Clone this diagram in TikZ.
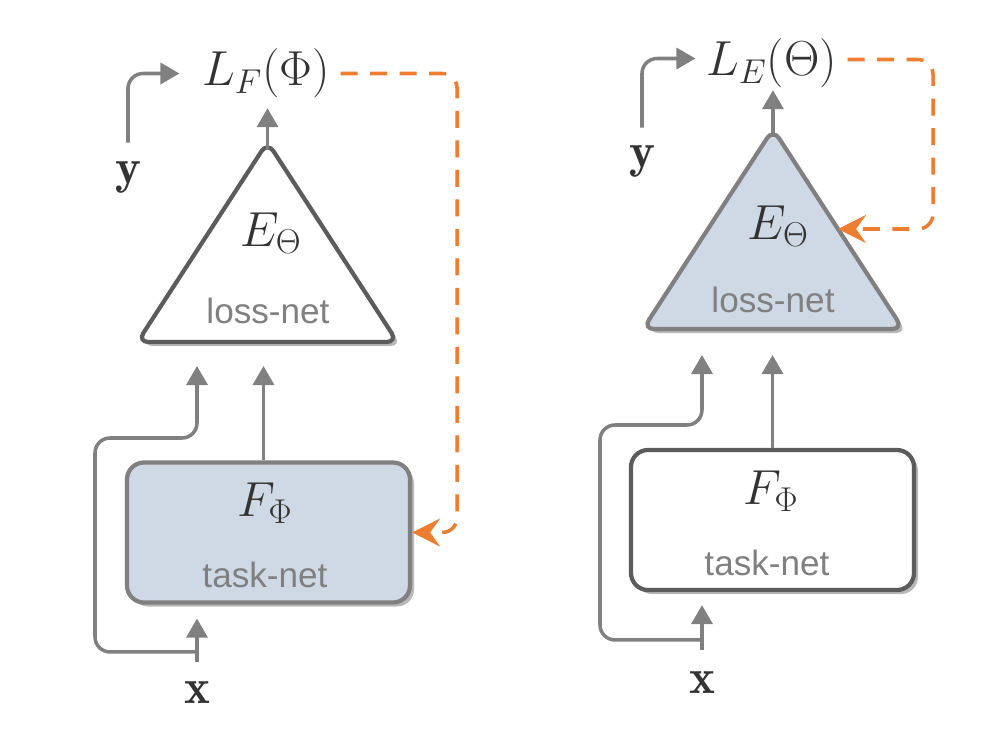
\documentclass[tikz,border=0pt]{standalone}
\usepackage{fix-cm}
\usepackage{amsmath,amssymb}
\usepackage{fontspec}
\setsansfont{Liberation Sans}
\usepackage{xcolor}
\usepackage{tikz}
\usetikzlibrary{positioning}
\usetikzlibrary{shapes.geometric}
\usetikzlibrary{shadows}
\usetikzlibrary{arrows.meta}

\definecolor{linegray}{RGB}{128,128,128}
\definecolor{edgedark}{RGB}{92,92,92}
\definecolor{netfill}{RGB}{207,217,230}
\definecolor{gradorange}{RGB}{237,125,49}
\definecolor{mathink}{RGB}{51,51,51}
\definecolor{labelgray}{RGB}{128,128,128}

\tikzset{
  net/.style={line width=2.4pt, drop shadow={shadow xshift=0.08cm, shadow yshift=-0.08cm, fill=black!28, opacity=1}},
  losstri/.style={net, isosceles triangle, isosceles triangle stretches, shape border rotate=90,
                  minimum width=5.2cm, minimum height=4cm, inner sep=0pt, outer sep=0pt,
                  rounded corners=0.22cm, anchor=apex},
  taskbox/.style={net, rectangle, rounded corners=0.34cm, minimum width=5.66cm, minimum height=2.8cm},
  netname/.style={font=\sffamily\fontsize{20}{24}\selectfont, text=labelgray},
  flow/.style={->, draw=linegray, line width=2pt, rounded corners=0.3cm},
  grad/.style={->, >={Stealth[length=0.56cm, width=0.56cm, inset=0.2cm]}, draw=gradorange,
               line width=2pt, dash pattern=on 0.34cm off 0.25cm, rounded corners=0.3cm},
}

\begin{document}
\begin{tikzpicture}[>={Triangle[length=0.38cm, width=0.42cm]}, node distance=1.5cm, inner sep=3pt,
                    font=\fontsize{28}{34}\selectfont, text=mathink]
    \useasboundingbox (0,0) rectangle (19.74,-14.66);

    % Left: task-net updated through the loss-net
    \node (lossL)    [losstri, draw=edgedark, fill=white] at (5.35,-2.84) {};
    \node (EL)       at (5.42,-4.66) {$E_\Theta$};
    \node (lossTxtL) [netname, node distance=1.55cm, below of=EL, xshift=-0.06cm] {loss-net};
    \node (taskL)    [taskbox, draw=linegray, fill=netfill] at (5.37,-10.65) {};
    \node (FL)       [node distance=0.59cm, above of=taskL, xshift=-0.07cm] {$F_\Phi$};
    \node (taskTxtL) [netname, node distance=0.84cm, below of=taskL, xshift=-0.07cm] {task-net};
    \node (LF)       at (5.32,-1.47) {$L_F(\Phi)$};
    \node (yL)       at (2.56,-3.55) {$\mathbf{y}$};
    \node (xL)       at (3.94,-13.86) {$\mathbf{x}$};
    \coordinate (inL)   at ([yshift=-0.48cm]lossL.lower side);
    \coordinate (skipL) at (1.9,-8.76);

    \draw[flow, shorten >=0.09cm] ([yshift=-0.16cm]lossL.apex) -- (lossL.apex |- LF.south);
    \draw[flow] ([yshift=0.27cm]yL.north) |- ([xshift=-0.34cm]LF.west);
    \draw[flow] ([xshift=-0.1cm]taskL.north) -- ([xshift=-0.1cm]taskL.north |- inL);
    \draw[flow, shorten >=0.28cm] ([yshift=0.29cm]xL.north) -- (xL.north |- taskL.south);
    \draw[flow] ([yshift=0.49cm]xL.north) -| (skipL) -| (xL.north |- inL);
    \draw[grad, shorten <=0.1cm] (LF.east) -| ([xshift=0.9cm]taskL.east) -- (taskL.east);

    % Right: loss-net updated on its own loss
    \node (lossR)    [losstri, draw=linegray, fill=netfill] at (15.46,-2.58) {};
    \node (ER)       at (15.56,-4.52) {$E_\Theta$};
    \node (lossTxtR) [netname, node distance=1.48cm, below of=ER, xshift=-0.1cm] {loss-net};
    \node (taskR)    [taskbox, draw=edgedark, fill=white] at (15.45,-10.40) {};
    \node (FR)       [node distance=0.58cm, above of=taskR, xshift=-0.03cm] {$F_\Phi$};
    \node (taskTxtR) [netname, node distance=0.86cm, below of=taskR, xshift=-0.11cm] {task-net};
    \node (LE)       at (15.43,-1.27) {$L_E(\Theta)$};
    \node (yR)       at (12.84,-3.23) {$\mathbf{y}$};
    \node (xR)       at (14.04,-13.66) {$\mathbf{x}$};
    \coordinate (inR)   at ([yshift=-0.52cm]lossR.lower side);
    \coordinate (skipR) at (12.0,-8.5);

    \draw[flow, shorten >=-0.07cm] ([yshift=-0.16cm]lossR.apex) -- (lossR.apex |- LE.south);
    \draw[flow] ([yshift=0.25cm]yR.north) |- ([xshift=-0.1cm, yshift=0.1cm]LE.west);
    \draw[flow] (taskR.north) -- (taskR.north |- inR);
    \draw[flow, shorten >=0.26cm] ([yshift=0.33cm]xR.north) -- (xR.north |- taskR.south);
    \draw[flow] ([yshift=0.53cm]xR.north) -| (skipR) -| (xR.north |- inR);
    \draw[grad, shorten <=0.1cm] ([yshift=0.08cm]LE.east) -| ([xshift=1.9cm]lossR.right side) -- (lossR.right side);
\end{tikzpicture}
\end{document}
